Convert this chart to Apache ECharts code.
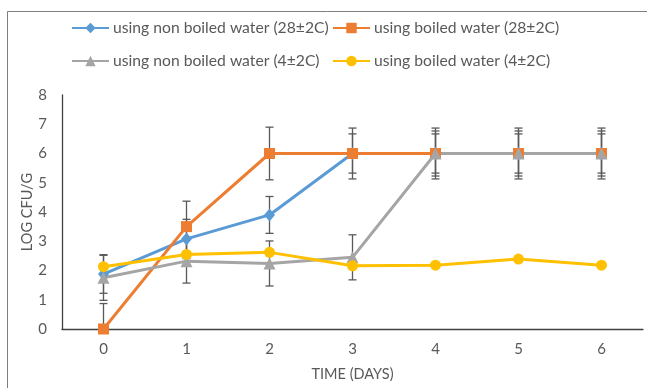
<!DOCTYPE html>
<html>
<head>
<meta charset="utf-8">
<script src="https://cdn.jsdelivr.net/npm/echarts@6/dist/echarts.min.js"></script>
<style>
html,body{margin:0;padding:0;background:#fff;}
#c{width:647px;height:388px;}
</style>
</head>
<body>
<div id="c"></div>
<script>
const categories = ['0', '1', '2', '3', '4', '5', '6'];
const seriesNames = [
  'using non boiled water (28±2C)',
  'using boiled water (28±2C)',
  'using non boiled water (4±2C)',
  'using boiled water (4±2C)'
];
const blueVals   = [1.88, 3.08, 3.90, 6.00, 6.00, 6.00, 6.00];
const orangeVals = [0.00, 3.50, 6.00, 6.00, 6.00, 6.00, 6.00];
const grayVals   = [1.75, 2.32, 2.24, 2.45, 6.00, 6.00, 6.00];
const yellowVals = [2.13, 2.55, 2.62, 2.16, 2.18, 2.39, 2.18];
const blueErr   = [0.66, 0.67, 0.63, 0.67, 0.67, 0.67, 0.67];
const orangeErr = [0.87, 0.87, 0.90, 0.87, 0.87, 0.87, 0.87];
const grayErr   = [0.77, 0.75, 0.77, 0.77, 0.77, 0.77, 0.77];
const yTicks = [0, 8, 1];

const colors = ['#5B9BD5', '#ED7D31', '#A5A5A5', '#FFC000'];
const FONT = 'Lato';
const TXT = '#595959';

function errSeries(name, vals, errs) {
  return {
    type: 'custom',
    name: name,
    z: 2,
    silent: true,
    data: vals.map((v, i) => [i, v, errs[i]]),
    encode: { x: 0, y: 1 },
    renderItem: function (params, api) {
      const i = api.value(0), v = api.value(1), e = api.value(2);
      const lowV = v - e;
      const clippedLow = Math.max(lowV, yTicks[0]);
      const top = api.coord([i, v + e]);
      const bot = api.coord([i, clippedLow]);
      const w = 4;
      const st = { stroke: '#595959', lineWidth: 1.3 };
      const ch = [
        { type: 'line', shape: { x1: top[0], y1: top[1], x2: bot[0], y2: bot[1] }, style: st },
        { type: 'line', shape: { x1: top[0] - w, y1: top[1], x2: top[0] + w, y2: top[1] }, style: st }
      ];
      if (lowV >= yTicks[0]) {
        ch.push({ type: 'line', shape: { x1: bot[0] - w, y1: bot[1], x2: bot[0] + w, y2: bot[1] }, style: st });
      }
      return { type: 'group', children: ch };
    }
  };
}

function lineSeries(idx, vals, symbol, size) {
  return {
    type: 'line',
    name: seriesNames[idx],
    data: vals,
    z: 2,
    symbol: symbol,
    symbolSize: size,
    showAllSymbol: true,
    lineStyle: { color: colors[idx], width: 3 },
    itemStyle: { color: colors[idx], borderColor: colors[idx], borderWidth: 0 },
    emphasis: { disabled: true },
    animation: false
  };
}

function legendAt(name, left, top) {
  return {
    data: [name],
    left: left,
    top: top,
    padding: 0,
    itemWidth: 37,
    itemHeight: 13,
    itemGap: 0,
    textStyle: { fontFamily: FONT, fontSize: 15.7, color: TXT, padding: [0, 0, 0, -1] },
    selectedMode: false
  };
}

const chart = echarts.init(document.getElementById('c'), null, { renderer: 'canvas' });
chart.setOption({
  animation: false,
  backgroundColor: '#fff',
  color: colors,
  graphic: [{
    type: 'rect',
    shape: { x: 7.5, y: 11.5, width: 700, height: 420 },
    style: { fill: 'none', stroke: '#7f7f7f', lineWidth: 1 },
    silent: true, z: -10
  }],
  legend: [
    legendAt(seriesNames[0], 71, 20),
    legendAt(seriesNames[1], 332, 20),
    legendAt(seriesNames[2], 71, 53),
    legendAt(seriesNames[3], 332, 53)
  ],
  grid: { left: 62, right: 4, top: 95, bottom: 59, containLabel: false },
  xAxis: {
    type: 'category',
    data: categories,
    boundaryGap: true,
    name: 'TIME (DAYS)',
    nameLocation: 'middle',
    nameGap: 38,
    nameMoveOverlap: false,
    nameTextStyle: { fontFamily: FONT, fontSize: 14.5, color: TXT },
    axisLine: { lineStyle: { color: '#404040', width: 1.3 } },
    axisTick: { show: false },
    axisLabel: { fontFamily: FONT, fontSize: 15, color: TXT, margin: 13 },
    splitLine: { show: false }
  },
  yAxis: {
    type: 'value',
    min: yTicks[0],
    max: yTicks[1],
    interval: yTicks[2],
    name: 'LOG CFU/G',
    nameLocation: 'middle',
    nameGap: 27,
    nameMoveOverlap: false,
    nameTextStyle: { fontFamily: FONT, fontSize: 14.5, color: TXT },
    axisLine: { show: true, lineStyle: { color: '#404040', width: 1.3 } },
    axisTick: { show: false },
    axisLabel: { fontFamily: FONT, fontSize: 15, color: TXT, margin: 15 },
    splitLine: { show: false }
  },
  series: [
    lineSeries(0, blueVals, 'diamond', [11, 13]),
    errSeries('errBlue', blueVals, blueErr),
    lineSeries(1, orangeVals, 'rect', 11),
    errSeries('errOrange', orangeVals, orangeErr),
    lineSeries(2, grayVals, 'triangle', 12),
    errSeries('errGray', grayVals, grayErr),
    lineSeries(3, yellowVals, 'circle', 11)
  ]
});
</script>
</body>
</html>
